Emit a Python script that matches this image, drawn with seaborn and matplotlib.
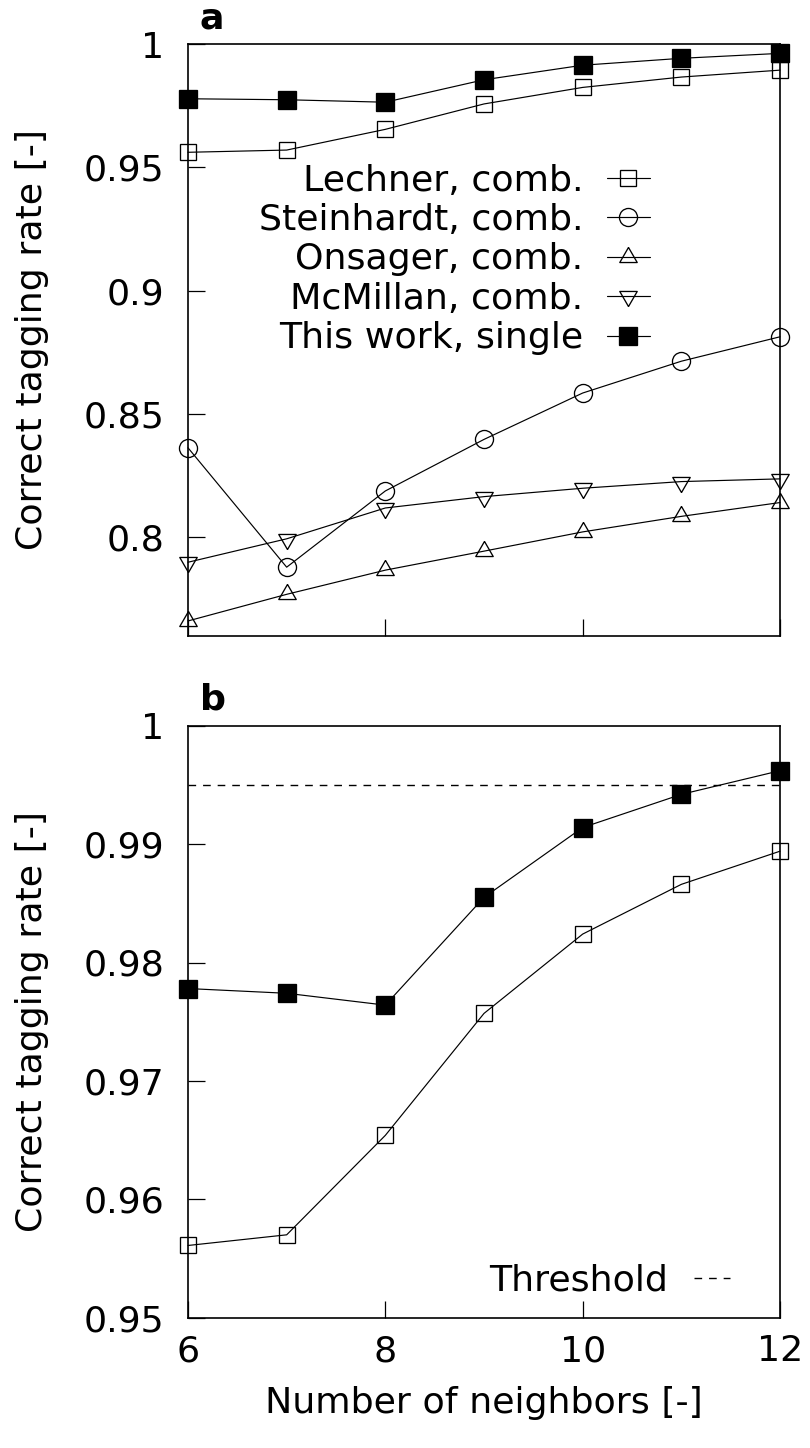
import matplotlib
matplotlib.use("Agg")
import matplotlib.pyplot as plt
import seaborn as sns
import numpy as np

# ---------------- data ----------------
neighbors = [6, 7, 8, 9, 10, 11, 12]
lechner = [0.9561, 0.9570, 0.9654, 0.9757, 0.9824, 0.9866, 0.9894]
steinhardt = [0.8363, 0.7879, 0.8188, 0.8397, 0.8585, 0.8714, 0.8813]
onsager = [0.7661, 0.7769, 0.7867, 0.7944, 0.8022, 0.8085, 0.8141]
mcmillan = [0.7899, 0.7994, 0.8119, 0.8165, 0.8199, 0.8226, 0.8237]
this_work = [0.9778, 0.9774, 0.9764, 0.9855, 0.9914, 0.9942, 0.9962]
threshold = 0.995

labels_a = ["Lechner, comb.", "Steinhardt, comb.", "Onsager, comb.",
            "McMillan, comb.", "This work, single"]
xticks = [6, 8, 10, 12]
xtick_labels = ["6", "8", "10", "12"]
yticks_a = [0.8, 0.85, 0.9, 0.95, 1.0]
ytick_labels_a = ["0.8", "0.85", "0.9", "0.95", "1"]
yticks_b = [0.95, 0.96, 0.97, 0.98, 0.99, 1.0]
ytick_labels_b = ["0.95", "0.96", "0.97", "0.98", "0.99", "1"]

# ---------------- style ----------------
sns.set_theme(style="white")
FS = 26.2
plt.rcParams["font.family"] = ["DejaVu Sans"]
plt.rcParams["font.size"] = FS
plt.rcParams["axes.linewidth"] = 1.2
plt.rcParams["text.color"] = "black"
plt.rcParams["axes.labelcolor"] = "black"
plt.rcParams["xtick.color"] = "black"
plt.rcParams["ytick.color"] = "black"
plt.rcParams["axes.edgecolor"] = "black"

up_tri = [(0, 1), (-0.866, -0.5), (0.866, -0.5), (0, 1)]
down_tri = [(0, -1), (-0.866, 0.5), (0.866, 0.5), (0, -1)]

LW = 0.85
MEW = 0.95

fig = plt.figure(figsize=(8.1, 14.48), dpi=100)
W, H = 810, 1448
ax_a = fig.add_axes([188 / W, (H - 636) / H, 592 / W, 592 / H])
ax_b = fig.add_axes([188 / W, (H - 1317.7) / H, 592 / W, 592 / H])

def open_kw(marker, ms):
    return dict(marker=marker, markersize=ms, markerfacecolor="none",
                markeredgecolor="black", markeredgewidth=MEW,
                color="black", linewidth=LW, clip_on=False)

filled_kw = dict(marker="s", markersize=12.5, markerfacecolor="black",
                 markeredgecolor="black", markeredgewidth=MEW,
                 color="black", linewidth=LW, clip_on=False)

# ---------------- panel a ----------------
sns.lineplot(x=neighbors, y=lechner, ax=ax_a, label=labels_a[0], **open_kw("s", 12))
sns.lineplot(x=neighbors, y=steinhardt, ax=ax_a, label=labels_a[1], **open_kw("o", 13))
sns.lineplot(x=neighbors, y=onsager, ax=ax_a, label=labels_a[2], **open_kw(up_tri, 14.5))
sns.lineplot(x=neighbors, y=mcmillan, ax=ax_a, label=labels_a[3], **open_kw(down_tri, 14.5))
sns.lineplot(x=neighbors, y=this_work, ax=ax_a, label=labels_a[4], **filled_kw)

ax_a.set_xlim(6, 12)
ax_a.set_ylim(0.76, 1.0)
ax_a.set_xticks(xticks)
ax_a.set_xticklabels([])
ax_a.set_yticks(yticks_a)
ax_a.set_yticklabels(ytick_labels_a)

leg_a = ax_a.legend(loc="center right", bbox_to_anchor=(0.780, 0.636),
                    frameon=False, markerfirst=False, fontsize=FS,
                    handlelength=1.18, handletextpad=0.65, labelspacing=0.15,
                    borderpad=0, borderaxespad=0)
for col in leg_a._legend_handle_box.get_children():
    col.align = "right"

# ---------------- panel b ----------------
sns.lineplot(x=neighbors, y=lechner, ax=ax_b, **open_kw("s", 12))
sns.lineplot(x=neighbors, y=this_work, ax=ax_b, **filled_kw)
thr = ax_b.axhline(threshold, color="black", linewidth=1.0,
                   linestyle=(0, (5.5, 5)), label="Threshold")

ax_b.set_xlim(6, 12)
ax_b.set_ylim(0.95, 1.0)
ax_b.set_xticks(xticks)
ax_b.set_xticklabels(xtick_labels)
ax_b.set_yticks(yticks_b)
ax_b.set_yticklabels(ytick_labels_b)
ax_b.set_xlabel("Number of neighbors [-]", fontsize=FS, labelpad=13)

leg_b = ax_b.legend(handles=[thr], loc="center right",
                    bbox_to_anchor=(0.9155, 0.062), frameon=False,
                    markerfirst=False, fontsize=FS, handlelength=1.0,
                    handletextpad=0.7, borderpad=0, borderaxespad=0)

# ---------------- common axis styling ----------------
for ax, tag in ((ax_a, "a"), (ax_b, "b")):
    for s in ax.spines.values():
        s.set_visible(True)
        s.set_color("black")
        s.set_linewidth(1.2)
    ax.tick_params(axis="both", which="major", direction="in", length=12,
                   width=0.9, color="black", labelsize=FS, pad=17,
                   labelcolor="black",
                   left=True, bottom=True, right=False, top=False)
    ax.tick_params(axis="x", pad=12)
    ax.set_ylabel("Correct tagging rate [-]", fontsize=FS, color="black")
    ax.yaxis.set_label_coords(-0.234, 0.5)
    ax.grid(False)
    ax.text(0.02, 1.027, tag, transform=ax.transAxes, fontsize=FS,
            fontweight="bold", ha="left", va="baseline", color="black")

fig.savefig("out.png", dpi=100, facecolor="white")
